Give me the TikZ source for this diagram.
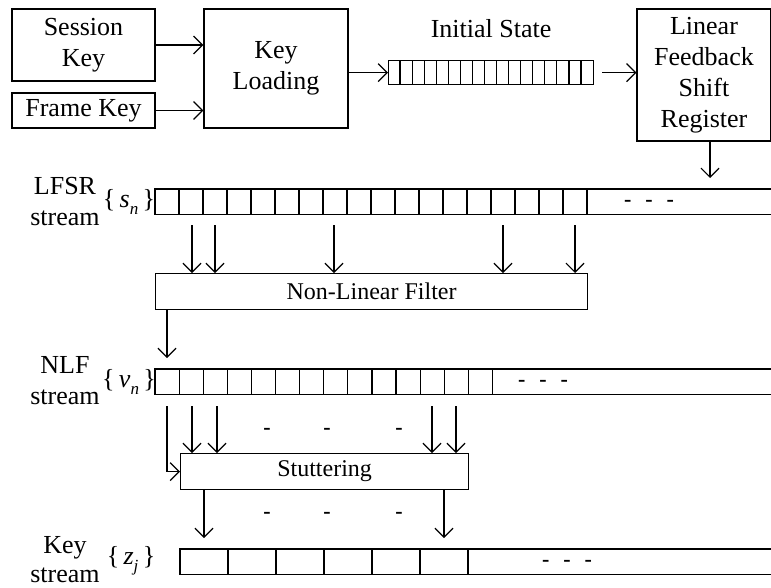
\documentclass[tikz,border=0pt]{standalone}
\usepackage{fontspec}
\setmainfont{Liberation Serif}
\usetikzlibrary{arrows.meta,positioning}
\newcommand{\bigtext}{\fontsize{26}{31}\selectfont}
\newcommand{\midtext}{\fontsize{24}{30}\selectfont}
\newcommand{\dashtext}{\fontsize{22}{22}\selectfont\bfseries}
\begin{document}
\begin{tikzpicture}[x=1pt,y=-1pt,line width=1.2pt,
        box/.style={draw,rectangle,inner sep=0pt,align=center,font=\bigtext},
        longbox/.style={draw,rectangle,inner sep=0pt,font=\midtext,anchor=north west},
        reg/.style={rectangle,inner sep=0pt,anchor=north west,minimum height=24pt},
        side/.style={align=center,font=\bigtext},
        seq/.style={font=\bigtext},
        dashes/.style={font=\dashtext},
        arr/.style={-{Straight Barb[length=9pt,width=18pt,line width=1.2pt]}}]
        \useasboundingbox (0,0) rectangle (771,587);
        \node[box,minimum width=143pt,minimum height=72pt] (sess) at (83.5,45) {Session\\Key};
        \node[box,minimum width=143pt,minimum height=35pt] (frame) at (83.5,110.5) {Frame Key};
        \node[box,minimum width=144pt,minimum height=119pt] (load) at (276,68.5) {Key\\Loading};
        \node[reg,draw,minimum width=205pt] (init) at (388,60) {};
        \foreach \i in {1,...,16}
          \draw ([xshift=\i*12.06pt]init.north west) -- ([xshift=\i*12.06pt]init.south west);
        \node[seq,above=18pt of init] (initlbl) {Initial State};
        \node[box,minimum width=134pt,minimum height=132pt] (lfsrbox) at (704,75) {Linear\\Feedback\\Shift\\Register};
        \draw[arr] (sess.east) -- (sess.east -| load.west);
        \draw[arr] (frame.east) -- (frame.east -| load.west);
        \draw[arr] (load.east |- init.west) -- (init.west);
        \draw[arr] ([xshift=8pt]init.east) -- (init.east -| lfsrbox.west);

        \node[reg,minimum width=616pt] (lfsr) at (155,189) {};
        \draw (lfsr.north east) -- (lfsr.north west) -- (lfsr.south west) -- (lfsr.south east);
        \foreach \i in {1,...,18}
          \draw ([xshift=\i*24pt]lfsr.north west) -- ([xshift=\i*24pt]lfsr.south west);
        \node[dashes] (lfsrdots) at (649,203) {-\hspace{14pt}-\hspace{14pt}-};
        \node[side] (lfsrlbl) at (65,202) {LFSR\\stream};
        \node[seq] (sn) at (129,202) {\{\,\textit{s}\raisebox{-7pt}{\fontsize{17}{17}\selectfont\textit{n}}\,\}};
        \draw[arr] ([xshift=6pt]lfsrbox.south) -- ([xshift=6pt,yshift=11pt]lfsrbox.south |- lfsr.north);

        \node[longbox,minimum width=432pt,minimum height=36pt] (nlf) at (155,273) {Non-Linear Filter};
        \foreach \x in {192,215,334,503,575}
          \draw[arr] (\x,225) -- (\x,0 |- nlf.north);
        \draw[arr] (167,0 |- nlf.south) -- (167,358);

        \node[reg,minimum width=616pt] (nlfs) at (155,369) {};
        \draw (nlfs.north east) -- (nlfs.north west) -- (nlfs.south west) -- (nlfs.south east);
        \foreach \i in {1,...,14}
          \draw ([xshift=\i*24.1pt]nlfs.north west) -- ([xshift=\i*24.1pt]nlfs.south west);
        \node[dashes] (nlfdots) at (543,383) {-\hspace{14pt}-\hspace{14pt}-};
        \node[side] (nlflbl) at (65,381) {NLF\\stream};
        \node[seq] (vn) at (129,382) {\{\,\textit{v}\raisebox{-7pt}{\fontsize{17}{17}\selectfont\textit{n}}\,\}};

        \node[longbox,minimum width=288pt,minimum height=36pt] (stut) at (180,453) {Stuttering};
        \draw[arr] (167,406) |- (stut.west);
        \foreach \x in {192,217,432,456}
          \draw[arr] (\x,406) -- (\x,0 |- stut.north);
        \foreach \x in {267,327,399}
          \node[dashes] at (\x,431) {-};

        \node[reg,minimum width=591pt] (keys) at (180,549) {};
        \draw (keys.north east) -- (keys.north west) -- (keys.south west) -- (keys.south east);
        \foreach \i in {1,...,6}
          \draw ([xshift=\i*48pt]keys.north west) -- ([xshift=\i*48pt]keys.south west);
        \foreach \x in {204,444}
          \draw[arr] (\x,0 |- stut.south) -- (\x,538);
        \foreach \x in {267,327,399}
          \node[dashes] at (\x,515) {-};
        \node[dashes] (keydots) at (567,563) {-\hspace{14pt}-\hspace{14pt}-};
        \node[side,font=\fontsize{26}{29}\selectfont] (keylbl) at (65,560) {Key\\stream};
        \node[seq] (zj) at (131,561) {\{\,\textit{z}\raisebox{-7pt}{\fontsize{17}{17}\selectfont\textit{j}}\,\}};
      \end{tikzpicture}
\end{document}
